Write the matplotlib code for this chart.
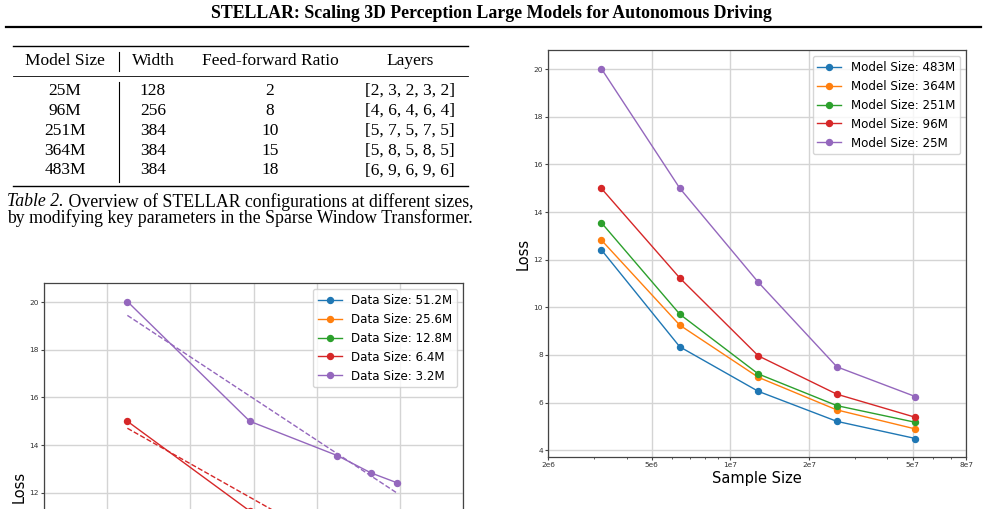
import numpy as np
import matplotlib
matplotlib.use('Agg')
import matplotlib.pyplot as plt
from matplotlib.lines import Line2D
from matplotlib.ticker import FixedLocator, FixedFormatter, NullFormatter

# --- data -------------------------------------------------------------
model_sizes = [25, 96, 251, 364, 483]            # millions of parameters
model_labels = ['25M', '96M', '251M', '364M', '483M']
sample_sizes = [3.2e6, 6.4e6, 12.8e6, 25.6e6, 51.2e6]
data_labels = ['3.2M', '6.4M', '12.8M', '25.6M', '51.2M']

# loss per model size, one value per sample size
loss_25m = [20.03, 15.00, 11.05, 7.50, 6.25]
loss_96m = [15.00, 11.23, 7.96, 6.35, 5.38]
loss_251m = [13.56, 9.71, 7.20, 5.87, 5.17]
loss_364m = [12.83, 9.25, 7.06, 5.69, 4.89]
loss_483m = [12.42, 8.34, 6.47, 5.21, 4.49]
loss = np.array([loss_25m, loss_96m, loss_251m, loss_364m, loss_483m])

# table 2
table_header = ['Model Size', 'Width', 'Feed-forward Ratio', 'Layers']
table_width = [128, 256, 384, 384, 384]
table_ff_ratio = [2, 8, 10, 15, 18]
table_layers = ['[2, 3, 2, 3, 2]', '[4, 6, 4, 6, 4]', '[5, 7, 5, 7, 5]',
                '[5, 8, 5, 8, 5]', '[6, 9, 6, 9, 6]']

page_title = 'STELLAR: Scaling 3D Perception Large Models for Autonomous Driving'
caption_lead = 'Table 2.'
caption_1 = ' Overview of STELLAR configurations at different sizes,'
caption_2 = 'by modifying key parameters in the Sparse Window Transformer.'

W, H = 985, 509
SERIF = ['Liberation Serif', 'DejaVu Serif']


def fx(px):
    return px / W


def fy(py):
    return 1 - py / H


def hline(fig, x0, x1, y, lw):
    fig.add_artist(Line2D([fx(x0), fx(x1)], [fy(y), fy(y)], color='black', lw=lw))


def vline(fig, x, y0, y1, lw):
    fig.add_artist(Line2D([fx(x), fx(x)], [fy(y0), fy(y1)], color='black', lw=lw))


def style_axes(ax):
    ax.grid(True, which='major', color='#d4d4d4', lw=1.0)
    for sp in ax.spines.values():
        sp.set_color('#444444')
        sp.set_linewidth(0.9)
    ax.tick_params(which='major', length=2.2, pad=1.5)
    ax.tick_params(which='minor', length=1.5)
    ax.tick_params(which='both', colors='#444444', labelsize=5.3, labelcolor='#333333')
    ax.set_ylabel('Loss', fontsize=10.5, labelpad=2)


fig = plt.figure(figsize=(W / 100, H / 100), dpi=100)

# --- page header ------------------------------------------------------
fig.text(fx(491), fy(13), page_title, ha='center', va='center', fontsize=12.8,
         fontweight='bold', family=SERIF)
hline(fig, 6, 981, 26.5, 1.6)

# --- table ------------------------------------------------------------
hline(fig, 13, 468, 45.7, 1.0)
hline(fig, 13, 468, 75.7, 0.6)
hline(fig, 13, 468, 185.7, 1.0)
vline(fig, 119, 52, 71, 0.8)
vline(fig, 119, 82, 182, 0.8)

col_x = [65, 153, 270, 410]
for cx, txt in zip(col_x, table_header):
    fig.text(fx(cx), fy(61), txt, ha='center', va='center', fontsize=12.5, family=SERIF)
row_y = [90.7, 110.7, 130.7, 150.8, 170.5]
for k, ry in enumerate(row_y):
    cells = [model_labels[k], str(table_width[k]), str(table_ff_ratio[k]), table_layers[k]]
    for cx, txt in zip(col_x, cells):
        fig.text(fx(cx), fy(ry), txt, ha='center', va='center', fontsize=12.5, family=SERIF)

lead = fig.text(fx(7), fy(202), caption_lead, ha='left', va='center', fontsize=12.8,
                family=SERIF, style='italic')
renderer = fig.canvas.get_renderer()
bb = lead.get_window_extent(renderer)
fig.text(bb.x1 / W, fy(202), caption_1, ha='left', va='center', fontsize=12.8, family=SERIF)
fig.text(fx(7), fy(218.5), caption_2, ha='left', va='center', fontsize=12.8, family=SERIF)

# --- left chart: loss vs model size (page cuts it off at the bottom) --
ax_l = fig.add_axes([fx(44), fy(283) - 407 / H, 419 / W, 407 / H])
for k, j in enumerate(range(len(sample_sizes) - 1, -1, -1)):
    y = loss[:, j]
    ax_l.plot(model_sizes, y, marker='o', ms=4.3, lw=1, color=f'C{k}',
              label=f'Data Size: {data_labels[j]}')
    coef = np.polyfit(np.log(model_sizes), y, 1)
    xe = [model_sizes[0], model_sizes[-1]]
    ax_l.plot(xe, np.polyval(coef, np.log(xe)), ls='--', lw=1, color=f'C{k}')
ax_l.set_xscale('log')
ax_l.set_xlim(10, 1000)
ax_l.xaxis.set_major_locator(FixedLocator([10, 20, 50, 100, 200, 500, 1000]))
ax_l.xaxis.set_minor_formatter(NullFormatter())
# only the upper part is on the page: no x labels, y ticks from 12 upward
ax_l.yaxis.set_major_locator(FixedLocator([12, 14, 16, 18, 20]))
style_axes(ax_l)
ax_l.tick_params(axis='x', labelbottom=False)
ax_l.legend(loc='upper right', fontsize=8.6)

# --- right chart: loss vs sample size ---------------------------------
ax_r = fig.add_axes([fx(548), fy(457), 418 / W, 407 / H])
for k, i in enumerate(range(len(model_sizes) - 1, -1, -1)):
    ax_r.plot(sample_sizes, loss[i], marker='o', ms=4.3, lw=1, color=f'C{k}',
              label=f'Model Size: {model_labels[i]}')
ax_r.set_xscale('log')
ax_r.set_xlim(2e6, 8e7)
ax_r.xaxis.set_major_locator(FixedLocator([2e6, 5e6, 1e7, 2e7, 5e7, 8e7]))
ax_r.xaxis.set_major_formatter(FixedFormatter(['2e6', '5e6', '1e7', '2e7', '5e7', '8e7']))
ax_r.xaxis.set_minor_formatter(NullFormatter())
style_axes(ax_r)
ax_r.set_xlabel('Sample Size', fontsize=10.5, labelpad=2)
ax_r.legend(loc='upper right', fontsize=8.6)

fig.savefig('out.png', dpi=100)
